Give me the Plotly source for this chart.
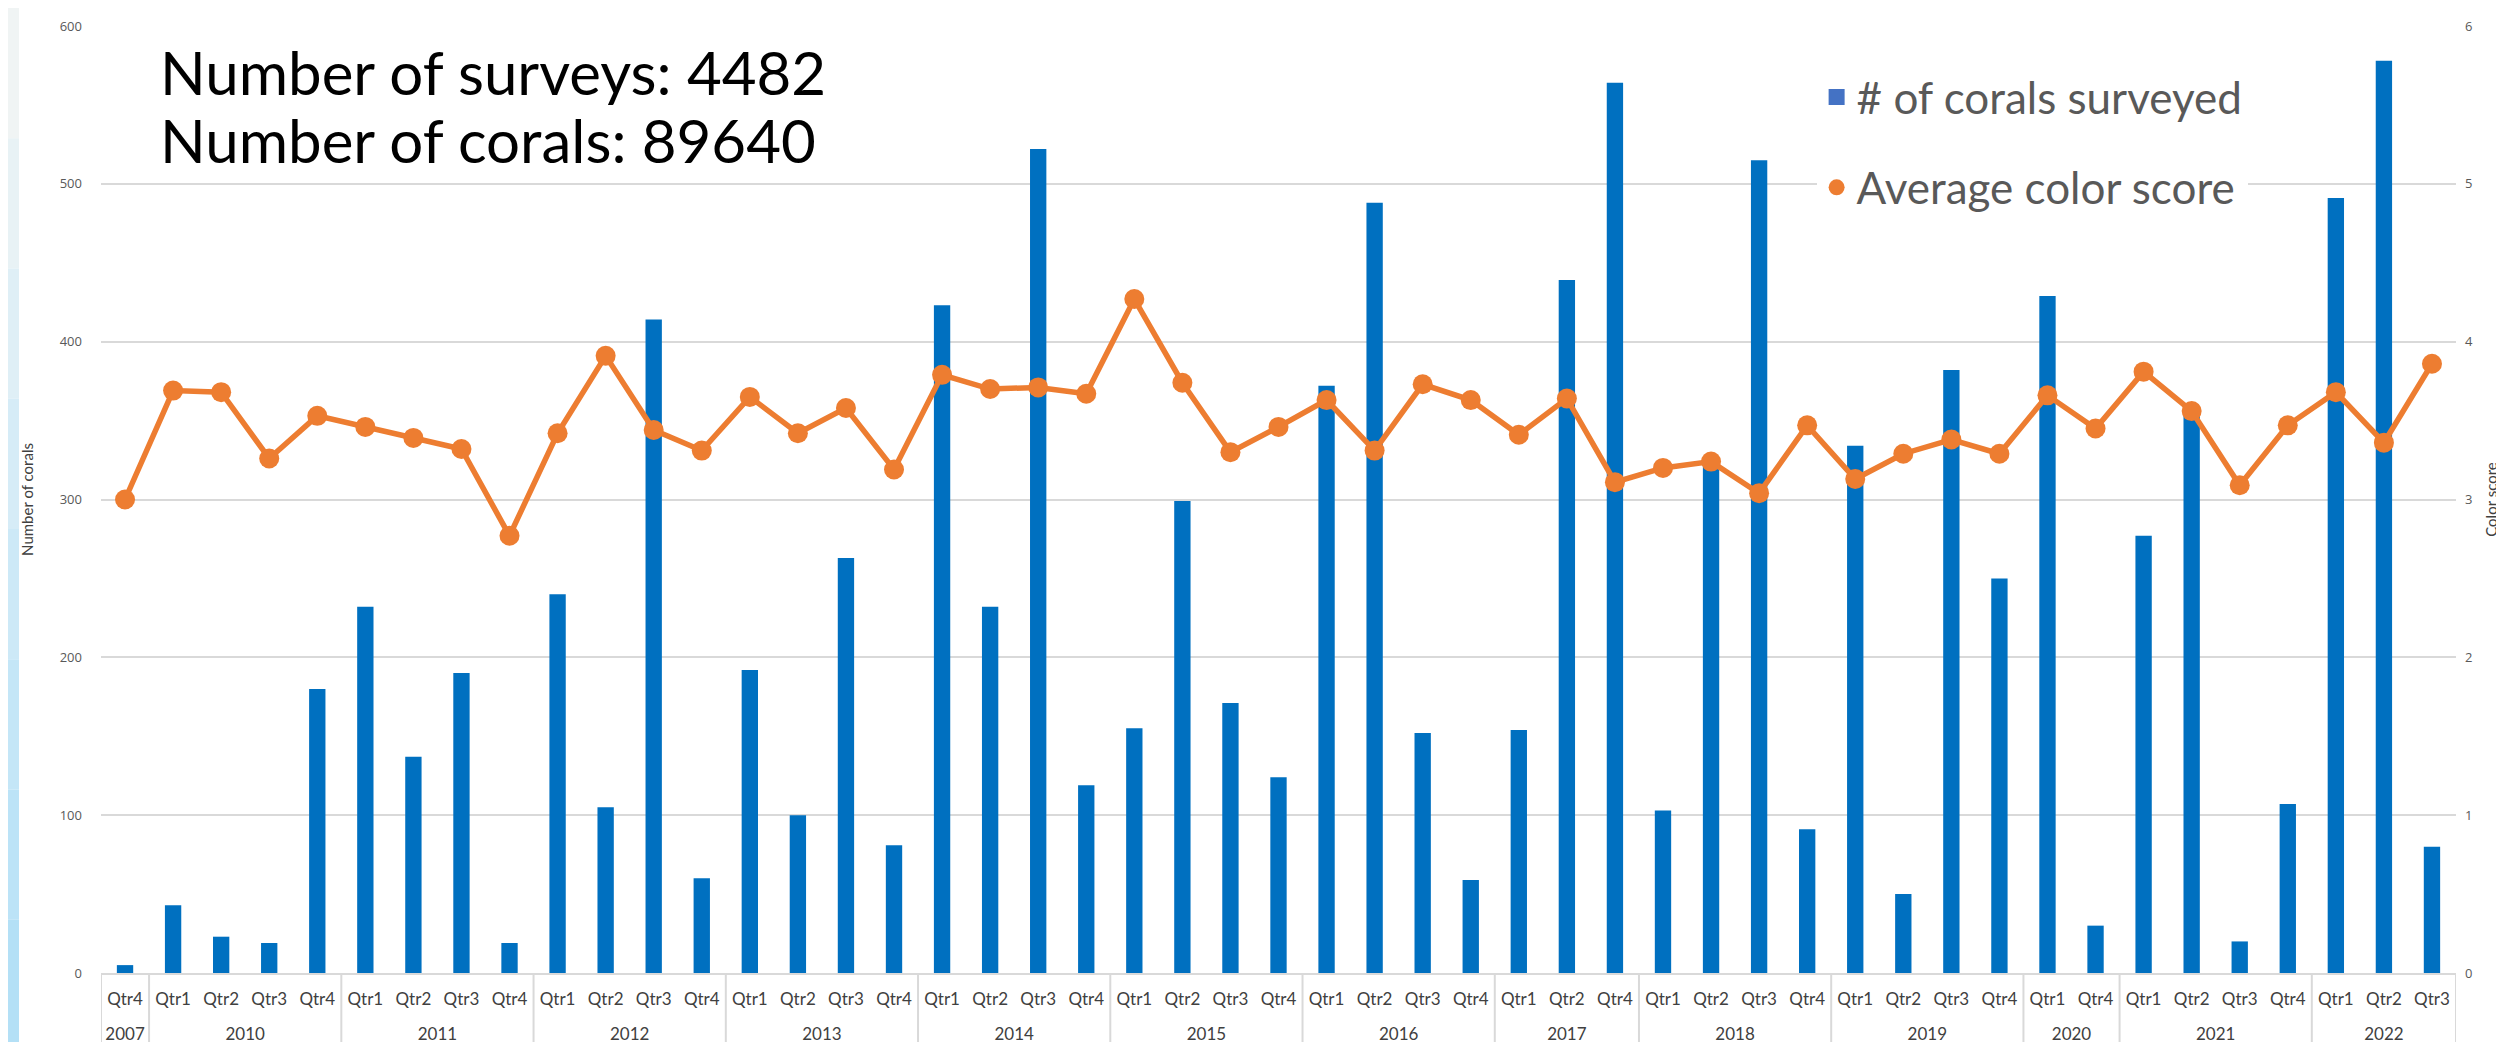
import plotly.graph_objects as go

years = ["2007",
         "2010", "2010", "2010", "2010",
         "2011", "2011", "2011", "2011",
         "2012", "2012", "2012", "2012",
         "2013", "2013", "2013", "2013",
         "2014", "2014", "2014", "2014",
         "2015", "2015", "2015", "2015",
         "2016", "2016", "2016", "2016",
         "2017", "2017", "2017",
         "2018", "2018", "2018", "2018",
         "2019", "2019", "2019", "2019",
         "2020", "2020",
         "2021", "2021", "2021", "2021",
         "2022", "2022", "2022"]
quarters = ["Qtr4",
            "Qtr1", "Qtr2", "Qtr3", "Qtr4",
            "Qtr1", "Qtr2", "Qtr3", "Qtr4",
            "Qtr1", "Qtr2", "Qtr3", "Qtr4",
            "Qtr1", "Qtr2", "Qtr3", "Qtr4",
            "Qtr1", "Qtr2", "Qtr3", "Qtr4",
            "Qtr1", "Qtr2", "Qtr3", "Qtr4",
            "Qtr1", "Qtr2", "Qtr3", "Qtr4",
            "Qtr1", "Qtr2", "Qtr4",
            "Qtr1", "Qtr2", "Qtr3", "Qtr4",
            "Qtr1", "Qtr2", "Qtr3", "Qtr4",
            "Qtr1", "Qtr4",
            "Qtr1", "Qtr2", "Qtr3", "Qtr4",
            "Qtr1", "Qtr2", "Qtr3"]

corals = [5,
          43, 23, 19, 180,
          232, 137, 190, 19,
          240, 105, 414, 60,
          192, 100, 263, 81,
          423, 232, 522, 119,
          155, 299, 171, 124,
          372, 488, 152, 59,
          154, 439, 564,
          103, 326, 515, 91,
          334, 50, 382, 250,
          429, 30,
          277, 356, 20, 107,
          491, 578, 80]

color_score = [3.00,
               3.69, 3.68, 3.26, 3.53,
               3.46, 3.39, 3.32, 2.77,
               3.42, 3.91, 3.44, 3.31,
               3.65, 3.42, 3.58, 3.19,
               3.79, 3.70, 3.71, 3.67,
               4.27, 3.74, 3.30, 3.46,
               3.63, 3.31, 3.73, 3.63,
               3.41, 3.64, 3.11,
               3.20, 3.24, 3.04, 3.47,
               3.13, 3.29, 3.38, 3.29,
               3.66, 3.45,
               3.81, 3.56, 3.09, 3.47,
               3.68, 3.36, 3.86]

n_surveys = 4482
n_corals = 89640

W, H = 2504, 1042
L, R, T, B = 93, 56, 18, 77
pw = W - L - R
ph = H - T - B

idx = list(range(len(quarters)))

# year groups (derived from the years list)
groups = []
for i, y in enumerate(years):
    if not groups or groups[-1][0] != y:
        groups.append([y, i, i])
    else:
        groups[-1][2] = i
year_labels = [g[0] for g in groups]
year_centers = [(g[1] + g[2]) / 2 for g in groups]
boundaries = [g[1] - 0.5 for g in groups] + [groups[-1][2] + 0.5]

fig = go.Figure()
fig.add_trace(go.Bar(
    x=idx, y=corals, name="# of corals surveyed",
    marker=dict(color="#0070C0", line=dict(width=0)),
    showlegend=False, yaxis="y", xaxis="x"))
fig.add_trace(go.Scatter(
    x=idx, y=color_score, name="Average color score",
    mode="lines+markers", line=dict(color="#ED7D31", width=5.5),
    marker=dict(color="#ED7D31", size=20),
    showlegend=False, yaxis="y2", xaxis="x"))
# legend entries
fig.add_trace(go.Scatter(
    x=[None], y=[None], mode="markers", name="# of corals surveyed",
    marker=dict(symbol="square", color="#4472C4", size=22),
    legendgroup="a", yaxis="y", xaxis="x2"))
fig.add_trace(go.Scatter(
    x=[None], y=[None], mode="markers", name="Average color score",
    marker=dict(symbol="circle", color="#ED7D31", size=26),
    legendgroup="b", yaxis="y", xaxis="x2"))

tickfont = dict(family="Open Sans", size=13, color="#595959")
xr = [-0.5, len(idx) - 0.5]
fig.update_layout(
    width=W, height=H,
    margin=dict(l=L, r=R, t=T, b=B, autoexpand=False),
    paper_bgcolor="white", plot_bgcolor="white",
    bargap=0.66,
    xaxis=dict(range=xr, tickmode="array", tickvals=idx, ticktext=quarters,
               showline=True, linecolor="#D9D9D9", linewidth=2, ticks="",
               ticklabelstandoff=10,
               tickfont=dict(family="Lato", size=17, color="#404040"),
               showgrid=False, zeroline=False, automargin=False),
    xaxis2=dict(range=xr, overlaying="x", anchor="y", side="bottom",
                tickmode="array", tickvals=year_centers, ticktext=year_labels,
                ticks="", showline=False, showgrid=False, zeroline=False,
                ticklabelstandoff=49,
                tickfont=dict(family="Lato", size=17, color="#404040"),
                automargin=False),
    yaxis=dict(range=[0, 600], dtick=100, showgrid=True, gridcolor="#D9D9D9",
               gridwidth=2, zeroline=False, tickfont=tickfont, ticks="",
               ticklabelstandoff=18,
               title=dict(text="Number of corals", font=dict(family="Lato", size=15, color="#404040"), standoff=22),
               automargin=False),
    yaxis2=dict(range=[0, 6], dtick=1, overlaying="y", side="right", showgrid=False,
                zeroline=False, tickfont=tickfont, ticks="", ticklabelstandoff=8,
                title=dict(text="Color score", font=dict(family="Lato", size=15, color="#404040"), standoff=14),
                automargin=False),
    legend=dict(x=0.7285, y=0.962, xanchor="left", yanchor="top",
                bgcolor="white", font=dict(family="Lato", size=44, color="#595959"),
                tracegroupgap=30, itemwidth=30),
    showlegend=True,
)

# category dividers below the axis
for bx in boundaries:
    fig.add_shape(type="line", xref="x", yref="paper", x0=bx, x1=bx,
                  y0=0, y1=-(B + 5) / ph, line=dict(color="#D9D9D9", width=2))

fig.add_annotation(xref="paper", yref="paper", x=(150 - L) / pw, y=1 - (64 - T) / ph,
                   xanchor="left", yanchor="middle", showarrow=False,
                   text=f"Number of surveys: {n_surveys}",
                   font=dict(family="Lato", size=60, color="black"))
fig.add_annotation(xref="paper", yref="paper", x=(150 - L) / pw, y=1 - (132 - T) / ph,
                   xanchor="left", yanchor="middle", showarrow=False,
                   text=f"Number of corals: {n_corals}",
                   font=dict(family="Lato", size=60, color="black"))

# left decorative strip with vertical gradient
cols = ["#F0F4F4", "#E8F2F5", "#DFEFF6", "#D6ECF7", "#CDE9F7", "#C4E6F7", "#BCE3F7", "#B4E0F6"]
n = len(cols)
for i, c in enumerate(cols):
    top = i * H / n
    bot = (i + 1) * H / n
    fig.add_shape(type="rect", xref="paper", yref="paper",
                  x0=(0 - L) / pw, x1=(11 - L) / pw,
                  y0=(H - bot - B) / ph, y1=(H - top - B) / ph,
                  fillcolor=c, line=dict(width=0), layer="below")

fig.write_html("out.html")
